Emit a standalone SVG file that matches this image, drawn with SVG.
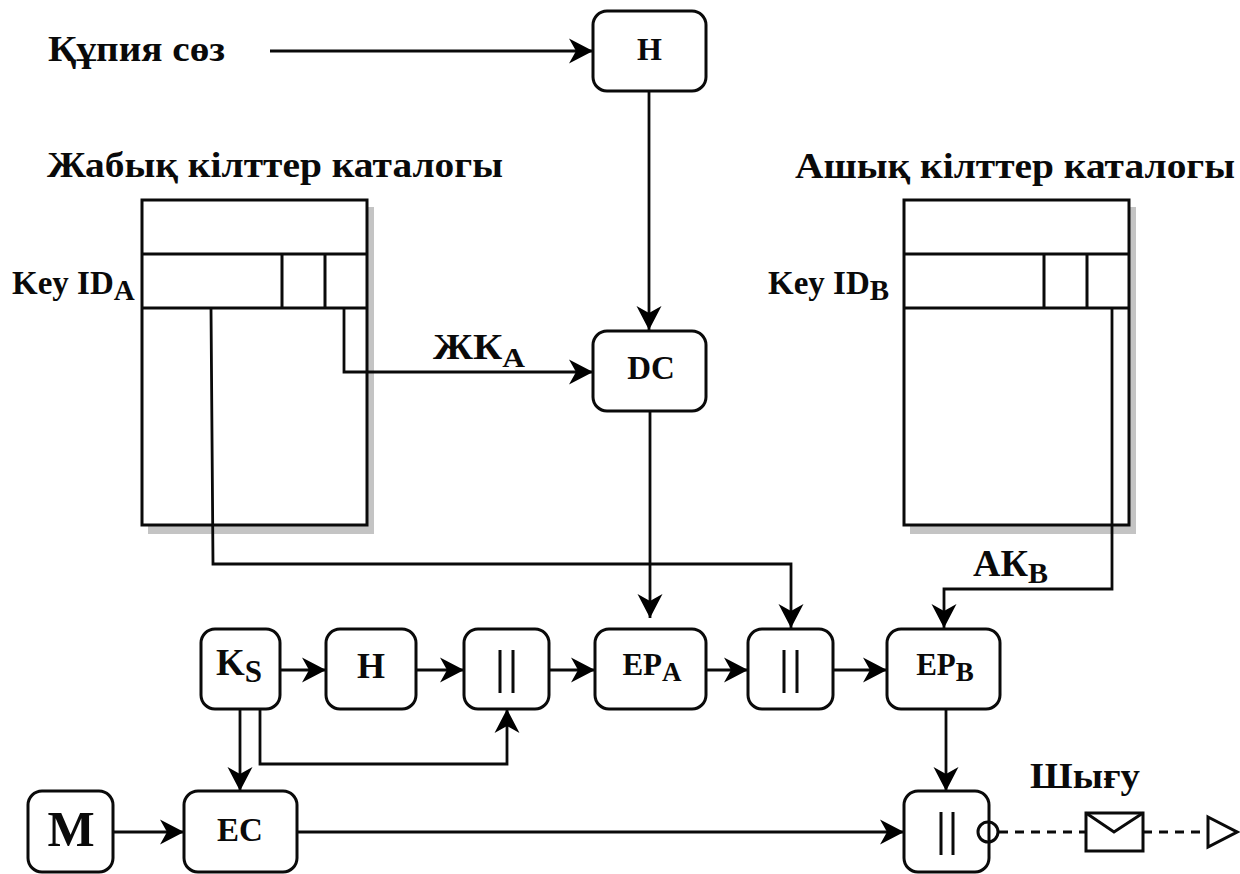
<svg xmlns="http://www.w3.org/2000/svg" width="1240" height="874" viewBox="0 0 1240 874">
<style>
.b{fill:#fff;stroke:#0a0a0a;stroke-width:3}
.c{fill:none;stroke:#0a0a0a;stroke-width:2.800;marker-end:url(#a)}
.l{fill:none;stroke:#0a0a0a;stroke-width:3}
.d{fill:none;stroke:#0a0a0a;stroke-width:2.800;stroke-dasharray:9 7}
text{font-family:"Liberation Serif","Times New Roman",serif;font-weight:bold;fill:#0a0a0a}
.s{fill:#c4c4c4;stroke:none}
.bar{fill:none;stroke:#0a0a0a;stroke-width:3}
</style>
<defs>
<marker id="a" markerUnits="userSpaceOnUse" markerWidth="26" markerHeight="26" refX="24" refY="13" orient="auto">
<path d="M0 .5L24 13L0 25.500L7 13Z" fill="#000"/>
</marker>
</defs>
<rect width="1240" height="874" fill="#fff"/>
<text x="48" y="61" font-size="36" textLength="177" lengthAdjust="spacingAndGlyphs">Құпия сөз</text>
<text x="47" y="177" font-size="36" textLength="456" lengthAdjust="spacingAndGlyphs">Жабық кілттер каталогы</text>
<text x="795" y="178" font-size="36" textLength="440" lengthAdjust="spacingAndGlyphs">Ашық кілттер каталогы</text>
<text x="1030" y="788" font-size="35" textLength="110" lengthAdjust="spacingAndGlyphs">Шығу</text>
<text x="433" y="359" font-size="36" textLength="92" lengthAdjust="spacingAndGlyphs">ЖК<tspan font-size="28" dy="8">A</tspan></text>
<text x="973" y="576" font-size="38">АК<tspan font-size="30" dy="7">B</tspan></text>
<g id="tableA">
<rect class="s" x="148" y="207" width="226" height="327"/>
<rect class="b" x="142" y="200" width="225" height="325"/>
<path class="l" d="M142 254H367M142 308H367M282 254V308M325 254V308"/>
<text x="12" y="294" font-size="33">Key ID<tspan font-size="29" dy="6">A</tspan></text>
</g>
<g id="tableB">
<rect class="s" x="910" y="207" width="226" height="327"/>
<rect class="b" x="904" y="200" width="225" height="325"/>
<path class="l" d="M904 254H1129M904 308H1129M1044 254V308M1087 254V308"/>
<text x="768" y="294" font-size="33">Key ID<tspan font-size="29" dy="6">B</tspan></text>
</g>
<g id="connectors">
<path class="c" d="M270 51H593"/>
<path class="c" d="M649 91V330"/>
<path class="c" d="M344 308V372H593"/>
<path class="c" d="M650 411V618"/>
<path class="c" d="M211 308L213 564H791V628"/>
<path class="c" d="M1112 308V589H944V628"/>
<path class="c" d="M280 670H326"/>
<path class="c" d="M416 670H464"/>
<path class="c" d="M549 670H595"/>
<path class="c" d="M706 670H748"/>
<path class="c" d="M833 670H887"/>
<path class="c" d="M240 709V791"/>
<path class="c" d="M260 709V764H507V709"/>
<path class="c" d="M113 832H184"/>
<path class="c" d="M297 832H904"/>
<path class="c" d="M946 709V791"/>
<path class="d" d="M999 832H1086"/>
<path class="d" d="M1143 832H1208"/>
</g>
<g id="n-h1"><rect class="b" x="593" y="11" width="113" height="80" rx="14"/><text x="649.500" y="60" font-size="32" text-anchor="middle">H</text></g>
<g id="n-dc"><rect class="b" x="593" y="331" width="113" height="80" rx="14"/><text x="651" y="379" font-size="33" text-anchor="middle">DC</text></g>
<g id="n-ks"><rect class="b" x="201" y="629" width="79" height="80" rx="14"/><text x="216" y="675" font-size="37">K<tspan font-size="31" dy="7">S</tspan></text></g>
<g id="n-h2"><rect class="b" x="326" y="629" width="90" height="80" rx="14"/><text x="371" y="678" font-size="36" text-anchor="middle">H</text></g>
<g id="n-c1"><rect class="b" x="464" y="629" width="85" height="80" rx="14"/><path class="bar" d="M500 650V693M513 650V693"/></g>
<g id="n-epa"><rect class="b" x="595" y="629" width="111" height="80" rx="14"/><text x="652" y="675" font-size="31" text-anchor="middle">EP<tspan font-size="27" dy="6">A</tspan></text></g>
<g id="n-c2"><rect class="b" x="748" y="629" width="85" height="80" rx="14"/><path class="bar" d="M784 650V693M797 650V693"/></g>
<g id="n-epb"><rect class="b" x="887" y="629" width="113" height="80" rx="14"/><text x="945" y="675" font-size="31" text-anchor="middle">EP<tspan font-size="27" dy="6">B</tspan></text></g>
<g id="n-m"><rect class="b" x="28" y="791" width="85" height="81" rx="14"/><text x="71" y="846" font-size="50" text-anchor="middle">M</text></g>
<g id="n-ec"><rect class="b" x="184" y="791" width="113" height="81" rx="14"/><text x="240" y="841" font-size="33" text-anchor="middle">EC</text></g>
<g id="n-c3"><rect class="b" x="904" y="791" width="85" height="81" rx="14"/><path class="bar" d="M941 812V855M953 812V855"/><circle cx="988" cy="832" r="10" fill="none" stroke="#0a0a0a" stroke-width="3"/></g>
<g id="n-mail"><rect class="b" x="1086" y="813" width="57" height="38"/><path class="l" d="M1086 813L1114 832L1143 813"/></g>
<path id="n-end" class="b" d="M1208 817L1237 832L1208 847Z"/>
</svg>
